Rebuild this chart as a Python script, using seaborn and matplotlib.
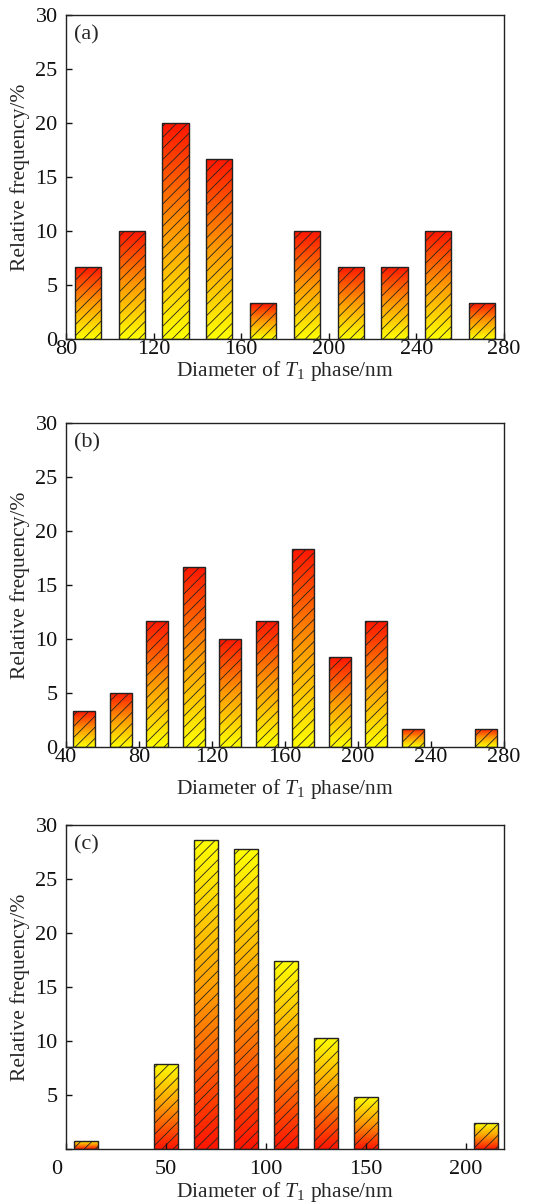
import matplotlib
matplotlib.use("Agg")
import matplotlib.pyplot as plt
from matplotlib.colors import LinearSegmentedColormap
import numpy as np
import seaborn as sns

# panel (a)
diam_a = [90, 110, 130, 150, 170, 190, 210, 230, 250, 270]
freq_a = [6.67, 10.0, 20.0, 16.67, 3.33, 10.0, 6.67, 6.67, 10.0, 3.33]
xticks_a = [80, 120, 160, 200, 240, 280]

# panel (b)
diam_b = [50, 70, 90, 110, 130, 150, 170, 190, 210, 230, 270]
freq_b = [3.33, 5.0, 11.67, 16.67, 10.0, 11.67, 18.33, 8.33, 11.67, 1.67, 1.67]
xticks_b = [40, 80, 120, 160, 200, 240, 280]

# panel (c)
diam_c = [10, 50, 70, 90, 110, 130, 150, 210]
freq_c = [0.8, 7.9, 28.6, 27.8, 17.4, 10.3, 4.8, 2.4]
xticks_c = [0, 50, 100, 150, 200]

yticks = [0, 5, 10, 15, 20, 25, 30]

sns.set_style("ticks")
plt.rcParams['font.family'] = ['Liberation Serif', 'DejaVu Serif']
plt.rcParams['mathtext.fontset'] = 'custom'
plt.rcParams['mathtext.rm'] = 'Liberation Serif'
plt.rcParams['mathtext.it'] = 'Liberation Serif:italic'
plt.rcParams['hatch.linewidth'] = 0.6
plt.rcParams['hatch.color'] = '#333333'

tick_size = 16
label_size = 15.5
cmap = LinearSegmentedColormap.from_list("ry", ["#ff1500", "#ff9a00", "#ffff00"])
grad = np.linspace(0, 1, 256).reshape(-1, 1)


def gradient_bars(ax, red_top=True):
    # origin='lower': first row at the bar bottom
    img = grad[::-1] if red_top else grad
    for p in list(ax.patches):
        x0, y0 = p.get_x(), p.get_y()
        w, h = p.get_width(), p.get_height()
        if h <= 0:
            continue
        im = ax.imshow(img, cmap=cmap, aspect='auto', vmin=0, vmax=1,
                       extent=[x0, x0 + w, y0, y0 + h], origin='lower',
                       zorder=1, interpolation='bilinear')
        im.set_clip_path(p)
        p.set_facecolor('none')
        p.set_edgecolor('#222222')
        p.set_linewidth(1.0)
        p.set_hatch('///')
        p.set_zorder(2)


def panel(ax, diam, freq, xlim, xticks, tag, red_top=True, xpad=1, xlabelpad=2):
    sns.barplot(x=diam, y=freq, native_scale=True, width=0.6, ax=ax,
                color='white', edgecolor='#222222', linewidth=1.0)
    gradient_bars(ax, red_top)
    ax.set_autoscale_on(False)
    ax.set_xlim(*xlim)
    ax.set_ylim(0, 30)
    ax.set_xticks(xticks)
    ax.set_yticks(yticks)
    ax.tick_params(direction='in', length=4, width=1, labelsize=tick_size,
                   colors='#111111')
    ax.tick_params(axis='x', pad=xpad)
    ax.tick_params(axis='y', pad=6)
    for s in ax.spines.values():
        s.set_linewidth(1.0)
        s.set_color('#222222')
        s.set_visible(True)
        s.set_zorder(5)
    ax.set_axisbelow(False)
    ax.set_xlabel(r"Diameter of $T_1$ phase/nm", fontsize=label_size,
                  labelpad=xlabelpad)
    ax.set_ylabel("Relative frequency/%", fontsize=label_size, labelpad=4)
    ax.text(0.018, 0.968, tag, transform=ax.transAxes, fontsize=tick_size,
            ha='left', va='top')


fig = plt.figure(figsize=(5.34, 12.03), dpi=100)
ax_a = fig.add_axes([0.1236, 0.7182, 0.8202, 0.2693])
ax_b = fig.add_axes([0.1236, 0.3790, 0.8202, 0.2694])
ax_c = fig.add_axes([0.1236, 0.0446, 0.8202, 0.2696])

panel(ax_a, diam_a, freq_a, (80, 280), xticks_a, "(a)", xlabelpad=0)
panel(ax_b, diam_b, freq_b, (40, 280), xticks_b, "(b)", xlabelpad=7)
panel(ax_c, diam_c, freq_c, (0, 219), xticks_c, "(c)", red_top=False,
      xpad=8, xlabelpad=0.5)

# panel (c): a single "0" in the corner, a little left of the x axis start
ax_c.set_yticklabels([''] + [str(v) for v in yticks[1:]])
ax_c.set_xticklabels([''] + [str(v) for v in xticks_c[1:]])
ax_c.annotate("0", xy=(0, 0), xycoords='data', xytext=(-6.5, -8),
              textcoords='offset points', ha='center', va='top',
              fontsize=tick_size, color='#111111')

fig.savefig("out.png", dpi=100)
